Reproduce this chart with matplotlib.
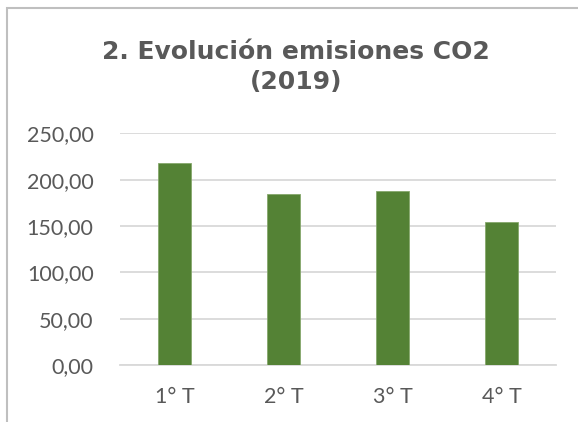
import matplotlib
matplotlib.use("Agg")
import matplotlib.pyplot as plt
from matplotlib.patches import Rectangle
from matplotlib.ticker import FuncFormatter, MultipleLocator

categories = ["1° T", "2° T", "3° T", "4° T"]
values = [217.8, 184.7, 187.9, 154.4]
title = "2. Evolución emisiones CO2\n(2019)"

W, H, DPI = 578, 422, 100
fig = plt.figure(figsize=(W / DPI, H / DPI), dpi=DPI)
fig.patch.set_facecolor("white")

# outer chart border (cropped at right and bottom)
fig.patches.append(Rectangle((7 / W, -0.1), 1.2, 1 - 8 / H + 0.1, transform=fig.transFigure,
                             fill=False, edgecolor="#bfbfbf", linewidth=1.5))

ax = fig.add_axes([120 / W, 1 - 365 / H, (556 - 120) / W, (365 - 133.3) / H])
x = list(range(len(categories)))
ax.bar(x, values, width=0.31, color="#548235", edgecolor="#86a86c", linewidth=0.6, zorder=3)
ax.set_xlim(-0.5, len(categories) - 0.5)
ax.set_ylim(0, 250)
ax.yaxis.set_major_locator(MultipleLocator(50))
ax.yaxis.set_major_formatter(FuncFormatter(lambda v, p: f"{v:.2f}".replace(".", ",")))
ax.set_xticks(x)
ax.set_xticklabels(categories)
ax.grid(axis="y", color="#d9d9d9", linewidth=1.3, zorder=0)
for s in ["top", "right", "left"]:
    ax.spines[s].set_visible(False)
ax.spines["bottom"].set_color("#d9d9d9")
ax.spines["bottom"].set_linewidth(1.3)
ax.tick_params(axis="both", length=0, colors="#595959", labelsize=15.5)
ax.tick_params(axis="y", pad=19)
ax.tick_params(axis="x", pad=16)
for lab in ax.get_xticklabels() + ax.get_yticklabels():
    lab.set_family("Lato")
    lab.set_fontweight("normal")

fig.text(296 / W, 1 - 89 / H, title, ha="center", va="baseline", fontsize=18,
         fontweight="bold", color="#595959", family="DejaVu Sans", linespacing=1.32)

fig.savefig("out.png", dpi=DPI)
